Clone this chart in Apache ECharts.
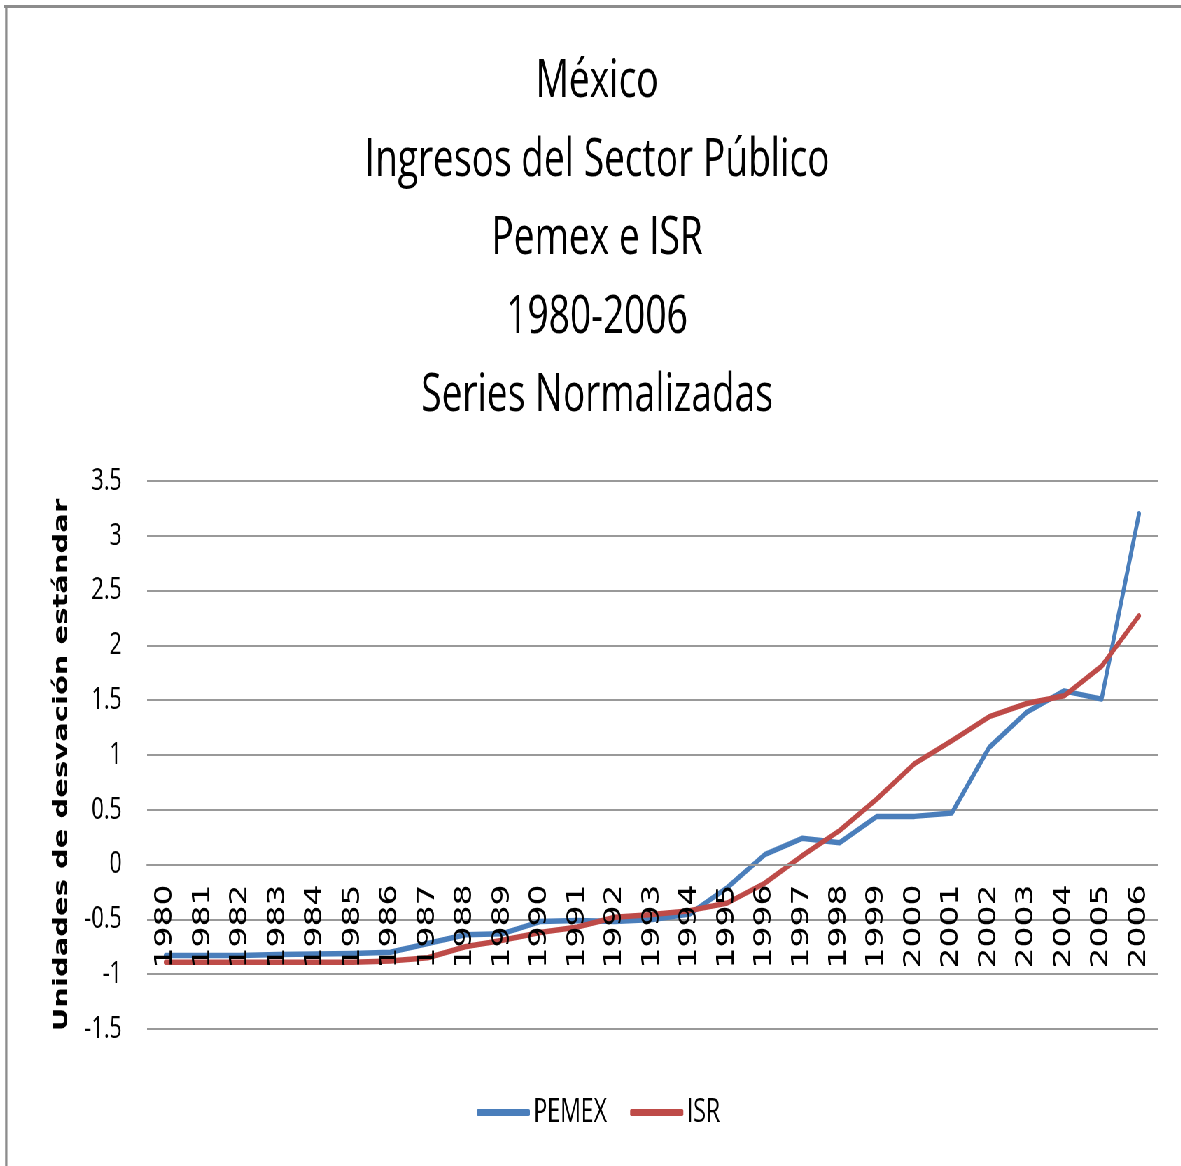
<!DOCTYPE html>
<html>
<head>
<meta charset="utf-8">
<title>México - Ingresos del Sector Público</title>
<script src="https://cdn.jsdelivr.net/npm/echarts@6/dist/echarts.min.js"></script>
<style>
  html, body { margin: 0; padding: 0; overflow: hidden; background: #fff; }
  /* la imagen original está comprimida en horizontal: dibujamos ancho y comprimimos */
  #chart { width: 1687px; height: 1166px; transform: scaleX(0.7); transform-origin: 0 0; }
</style>
</head>
<body>
<div id="chart"></div>
<script>
// datos
const titleLines = ['México', 'Ingresos del Sector Público', 'Pemex e ISR', '1980-2006', 'Series Normalizadas']
const yName = 'Unidades de desvación estándar'
const years = ['1980', '1981', '1982', '1983', '1984', '1985', '1986', '1987', '1988', '1989',
  '1990', '1991', '1992', '1993', '1994', '1995', '1996', '1997', '1998', '1999',
  '2000', '2001', '2002', '2003', '2004', '2005', '2006']
const pemex = [-0.83, -0.83, -0.83, -0.82, -0.815, -0.81, -0.80, -0.72, -0.64, -0.63,
  -0.52, -0.51, -0.52, -0.50, -0.45, -0.21, 0.09, 0.24, 0.20, 0.44,
  0.44, 0.47, 1.07, 1.39, 1.585, 1.51, 3.20]
const isr = [-0.89, -0.89, -0.89, -0.89, -0.89, -0.89, -0.88, -0.85, -0.75, -0.69,
  -0.62, -0.57, -0.48, -0.455, -0.42, -0.35, -0.17, 0.08, 0.31, 0.60,
  0.92, 1.13, 1.35, 1.47, 1.54, 1.81, 2.27]
const yMin = -1.5
const yMax = 3.5
const yStep = 0.5

const gridTop = 481
const gridBottom = 137
const gridHeight = 1166 - gridTop - gridBottom
// el eje de categorías cruza en 0 (onZero no se aplica aquí, se desplaza a mano)
const xAxisOffset = -((0 - yMin) / (yMax - yMin)) * gridHeight

const chart = echarts.init(document.getElementById('chart'))

const option = {
  animation: false,
  backgroundColor: '#fff',
  title: {
    text: titleLines.join('\n'),
    left: 853,
    top: 43,
    padding: 0,
    textAlign: 'center',
    textStyle: {
      fontFamily: 'Open Sans',
      fontWeight: 'normal',
      fontSize: 53,
      lineHeight: 78.5,
      color: '#000'
    }
  },
  legend: {
    left: 676,
    top: 1091,
    itemWidth: 76,
    itemHeight: 7,
    itemGap: 33,
    textStyle: { fontFamily: 'Open Sans', fontSize: 33, color: '#000' },
    data: [
      { name: 'PEMEX', icon: 'roundRect' },
      { name: 'ISR', icon: 'roundRect' }
    ]
  },
  grid: { left: 210, right: 33, top: gridTop, bottom: gridBottom },
  xAxis: {
    type: 'category',
    data: years,
    boundaryGap: true,
    offset: xAxisOffset,
    zlevel: 1,
    axisLine: { onZero: false, lineStyle: { color: '#999', width: 2 } },
    axisTick: { show: false },
    axisLabel: {
      interval: 0,
      rotate: 90,
      margin: 20,
      fontFamily: 'DejaVu Sans',
      fontSize: 33,
      color: '#000'
    }
  },
  yAxis: {
    type: 'value',
    min: yMin,
    max: yMax,
    interval: yStep,
    axisLine: { show: false },
    axisTick: { show: false },
    axisLabel: { margin: 36, fontFamily: 'Open Sans', fontSize: 31, color: '#000' },
    splitLine: { lineStyle: { color: '#999', width: 2 } }
  },
  graphic: [
    {
      type: 'text',
      x: 88,
      y: 765,
      rotation: Math.PI / 2,
      style: {
        text: yName,
        font: 'bold 29px "DejaVu Sans"',
        fill: '#000',
        textAlign: 'center',
        textVerticalAlign: 'middle'
      }
    },
    // marco gris (arriba e izquierda)
    { type: 'line', shape: { x1: 6, y1: 6.5, x2: 1687, y2: 6.5 }, style: { stroke: '#8c8c8c', lineWidth: 3 } },
    { type: 'line', shape: { x1: 8.9, y1: 5, x2: 8.9, y2: 1166 }, style: { stroke: '#8c8c8c', lineWidth: 3.3 } }
  ],
  series: [
    {
      name: 'PEMEX',
      type: 'line',
      data: pemex,
      symbol: 'none',
      color: '#4a7ebb',
      lineStyle: { width: 5.5, cap: 'round', join: 'round' }
    },
    {
      name: 'ISR',
      type: 'line',
      data: isr,
      symbol: 'none',
      color: '#be4b48',
      lineStyle: { width: 5.5, cap: 'round', join: 'round' }
    }
  ]
}

chart.setOption(option)
</script>
</body>
</html>
